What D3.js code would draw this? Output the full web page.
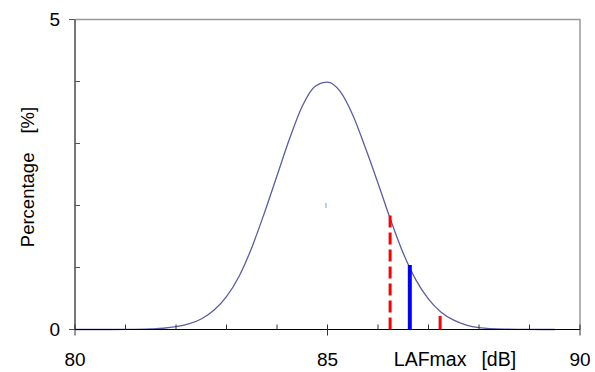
<!DOCTYPE html>
<html>
<head>
<meta charset="utf-8">
<script src="https://cdn.jsdelivr.net/npm/d3@7"></script>
<style>
  body { margin: 0; background: #fff; }
  text { font-family: "Liberation Sans", Arial, sans-serif; fill: #000; }
</style>
</head>
<body>
<div class="chart"></div>
<script>
// level distribution curve (dB, percent)
var curveDb  = [80, 80.5, 81, 81.5, 81.75, 82, 82.25, 82.5, 82.75, 83, 83.25, 83.5, 83.75, 84, 84.25, 84.5, 84.75, 85,
                85.25, 85.5, 85.75, 86, 86.25, 86.5, 86.75, 87, 87.25, 87.5, 87.75, 88, 88.5, 89, 89.5];
var curvePct = [0, 0, 0.002, 0.01, 0.02, 0.045, 0.09, 0.17, 0.31, 0.53, 0.86, 1.32, 1.88, 2.48, 3.08, 3.6, 3.92, 3.99,
                3.84, 3.46, 2.93, 2.36, 1.77, 1.23, 0.8, 0.49, 0.28, 0.15, 0.07, 0.03, 0.006, 0.001, 0];

// marker lines
var dashedDb = 86.24, dashedPct = 1.85;
var blueDb = 86.63, bluePct = 1.04;
var smallRedDb = 87.23, smallRedPct = 0.22;
var markDb = 84.97, markPct = 2;

var xTicks = [80, 81, 82, 83, 84, 85, 86, 87, 88, 89, 90];
var xLabels = [80, 85, 90];
var yTicks = [0, 1, 2, 3, 4, 5];
var yLabels = [0, 5];

var svgWidth = 595, svgHeight = 372;
var svg = d3.select(".chart").append("svg").attr("width", svgWidth).attr("height", svgHeight);

var x = d3.scaleLinear().domain([80, 90]).range([75, 580]);
var y = d3.scaleLinear().domain([0, 5]).range([329.5, 19.5]);

// frame (top + right)
svg.append("path").attr("d", `M${x(80)},${y(5)}H${x(90)}V${y(0)}`)
  .attr("fill", "none").attr("stroke", "#999").attr("stroke-width", 1.5);

// y axis: grey, minor ticks inside, labelled ticks outside
var leftAxis = svg.append("g");
leftAxis.append("line").attr("x1", x(80)).attr("x2", x(80)).attr("y1", y(5)).attr("y2", y(0))
  .attr("stroke", "#777").attr("stroke-width", 2);
leftAxis.selectAll(".tk").data(yTicks).enter().append("line")
  .attr("x1", d => yLabels.includes(d) ? x(80) - 6 : x(80))
  .attr("x2", d => yLabels.includes(d) ? x(80) : x(80) + 5)
  .attr("y1", d => y(d)).attr("y2", d => y(d))
  .attr("stroke", "#555").attr("stroke-width", 1);
leftAxis.selectAll("text").data(yLabels).enter().append("text")
  .attr("x", 60).attr("y", d => y(d)).attr("dy", "0.36em")
  .attr("text-anchor", "end").attr("font-size", "19px").text(d => d);

// curve
var line = d3.line().x(d => x(d[0])).y(d => y(d[1])).curve(d3.curveMonotoneX);
svg.append("path").datum(d3.zip(curveDb, curvePct))
  .attr("d", line).attr("fill", "none").attr("stroke", "#5c5ca4").attr("stroke-width", 1.3);

// x axis: black, minor ticks inward, labelled ticks cross
var bottomAxis = svg.append("g");
bottomAxis.append("line").attr("x1", x(80)).attr("x2", x(90)).attr("y1", y(0)).attr("y2", y(0))
  .attr("stroke", "#000").attr("stroke-width", 1);
bottomAxis.selectAll(".tk").data(xTicks).enter().append("line")
  .attr("x1", d => x(d)).attr("x2", d => x(d))
  .attr("y1", y(0) - 5)
  .attr("y2", d => xLabels.includes(d) ? y(0) + 6 : y(0))
  .attr("stroke", "#333").attr("stroke-width", 1);
bottomAxis.selectAll("text").data(xLabels).enter().append("text")
  .attr("x", d => x(d)).attr("y", 366)
  .attr("text-anchor", "middle").attr("font-size", "19px").text(d => d);

// marker lines
svg.append("line").attr("x1", x(dashedDb)).attr("x2", x(dashedDb)).attr("y1", y(0)).attr("y2", y(dashedPct))
  .attr("stroke", "#ff0000").attr("stroke-width", 3).attr("stroke-dasharray", "12,5");
svg.append("line").attr("x1", x(blueDb)).attr("x2", x(blueDb)).attr("y1", y(0)).attr("y2", y(bluePct))
  .attr("stroke", "#0000ff").attr("stroke-width", 4);
svg.append("line").attr("x1", x(smallRedDb)).attr("x2", x(smallRedDb)).attr("y1", y(0)).attr("y2", y(smallRedPct))
  .attr("stroke", "#ff0000").attr("stroke-width", 3);
svg.append("line").attr("x1", x(markDb)).attr("x2", x(markDb)).attr("y1", y(markPct) - 2.5).attr("y2", y(markPct) + 2.5)
  .attr("stroke", "#6fa8d8").attr("stroke-width", 1);

// axis titles
var xTitle = svg.append("text").attr("x", 455).attr("y", 366).attr("text-anchor", "middle")
  .attr("font-size", "19.5px");
xTitle.append("tspan").text("LAFmax");
xTitle.append("tspan").attr("dx", 15).text("[dB]");
var yTitle = svg.append("text").attr("transform", "translate(33.5,177) rotate(-90)").attr("text-anchor", "middle")
  .attr("font-size", "18.5px");
yTitle.append("tspan").text("Percentage");
yTitle.append("tspan").attr("dx", 19).text("[%]");
</script>
</body>
</html>
